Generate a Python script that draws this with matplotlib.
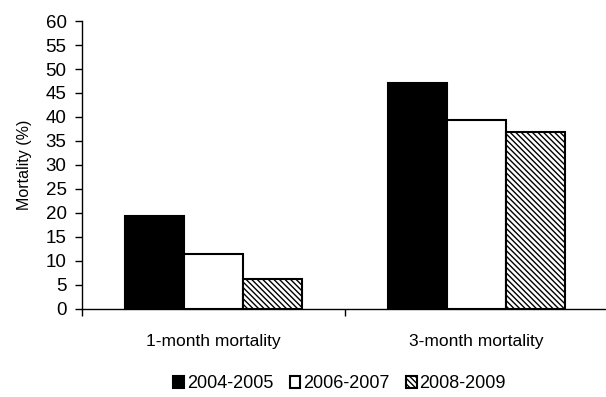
import matplotlib
matplotlib.use("Agg")
import matplotlib.pyplot as plt
import numpy as np
from matplotlib.ticker import FixedLocator

plt.rcParams['font.family'] = ['Liberation Sans Narrow', 'Liberation Sans', 'DejaVu Sans']
plt.rcParams['hatch.linewidth'] = 1.0

categories = ['1-month mortality', '3-month mortality']
series = ['2004-2005', '2006-2007', '2008-2009']
values = {
    '2004-2005': [19.4, 47.0],
    '2006-2007': [11.4, 39.3],
    '2008-2009': [6.2, 36.8],
}
colors = ['black', 'white', 'white']
hatches = [None, None, '\\\\\\\\\\\\']

fig = plt.figure(figsize=(6.06, 3.97), dpi=100)
ax = fig.add_axes([0.135, 0.222, 0.868, 0.725])

x = np.arange(len(categories))
w = 0.224
for i, s in enumerate(series):
    ax.bar(x + (i - 1) * w, values[s], w, color=colors[i], edgecolor='black',
           linewidth=1.5, hatch=hatches[i], label=s)

ax.set_xlim(-0.5, 1.5)
ax.set_ylim(0, 60)
ax.set_yticks(np.arange(0, 61, 5))
ax.set_xticks(x)
ax.set_xticklabels(categories)
ax.xaxis.set_minor_locator(FixedLocator([-0.5, 0.5, 1.5]))
ax.tick_params(axis='x', which='major', length=0, pad=18, labelsize=12.5)
ax.tick_params(axis='x', which='minor', length=5, width=1)
ax.tick_params(axis='y', length=5, width=1, labelsize=13.5, pad=6)
for sp in ['top', 'right']:
    ax.spines[sp].set_visible(False)
ax.spines['left'].set_linewidth(1)
ax.spines['bottom'].set_linewidth(1)
ax.set_ylabel('Mortality (%)', fontsize=11.5, labelpad=10)

ax.legend(loc='upper center', bbox_to_anchor=(0.49, -0.175), ncol=3, frameon=False,
          fontsize=13, handlelength=0.6, handleheight=0.6, handletextpad=0.15,
          columnspacing=0.9)

fig.savefig('out.png', dpi=100)
